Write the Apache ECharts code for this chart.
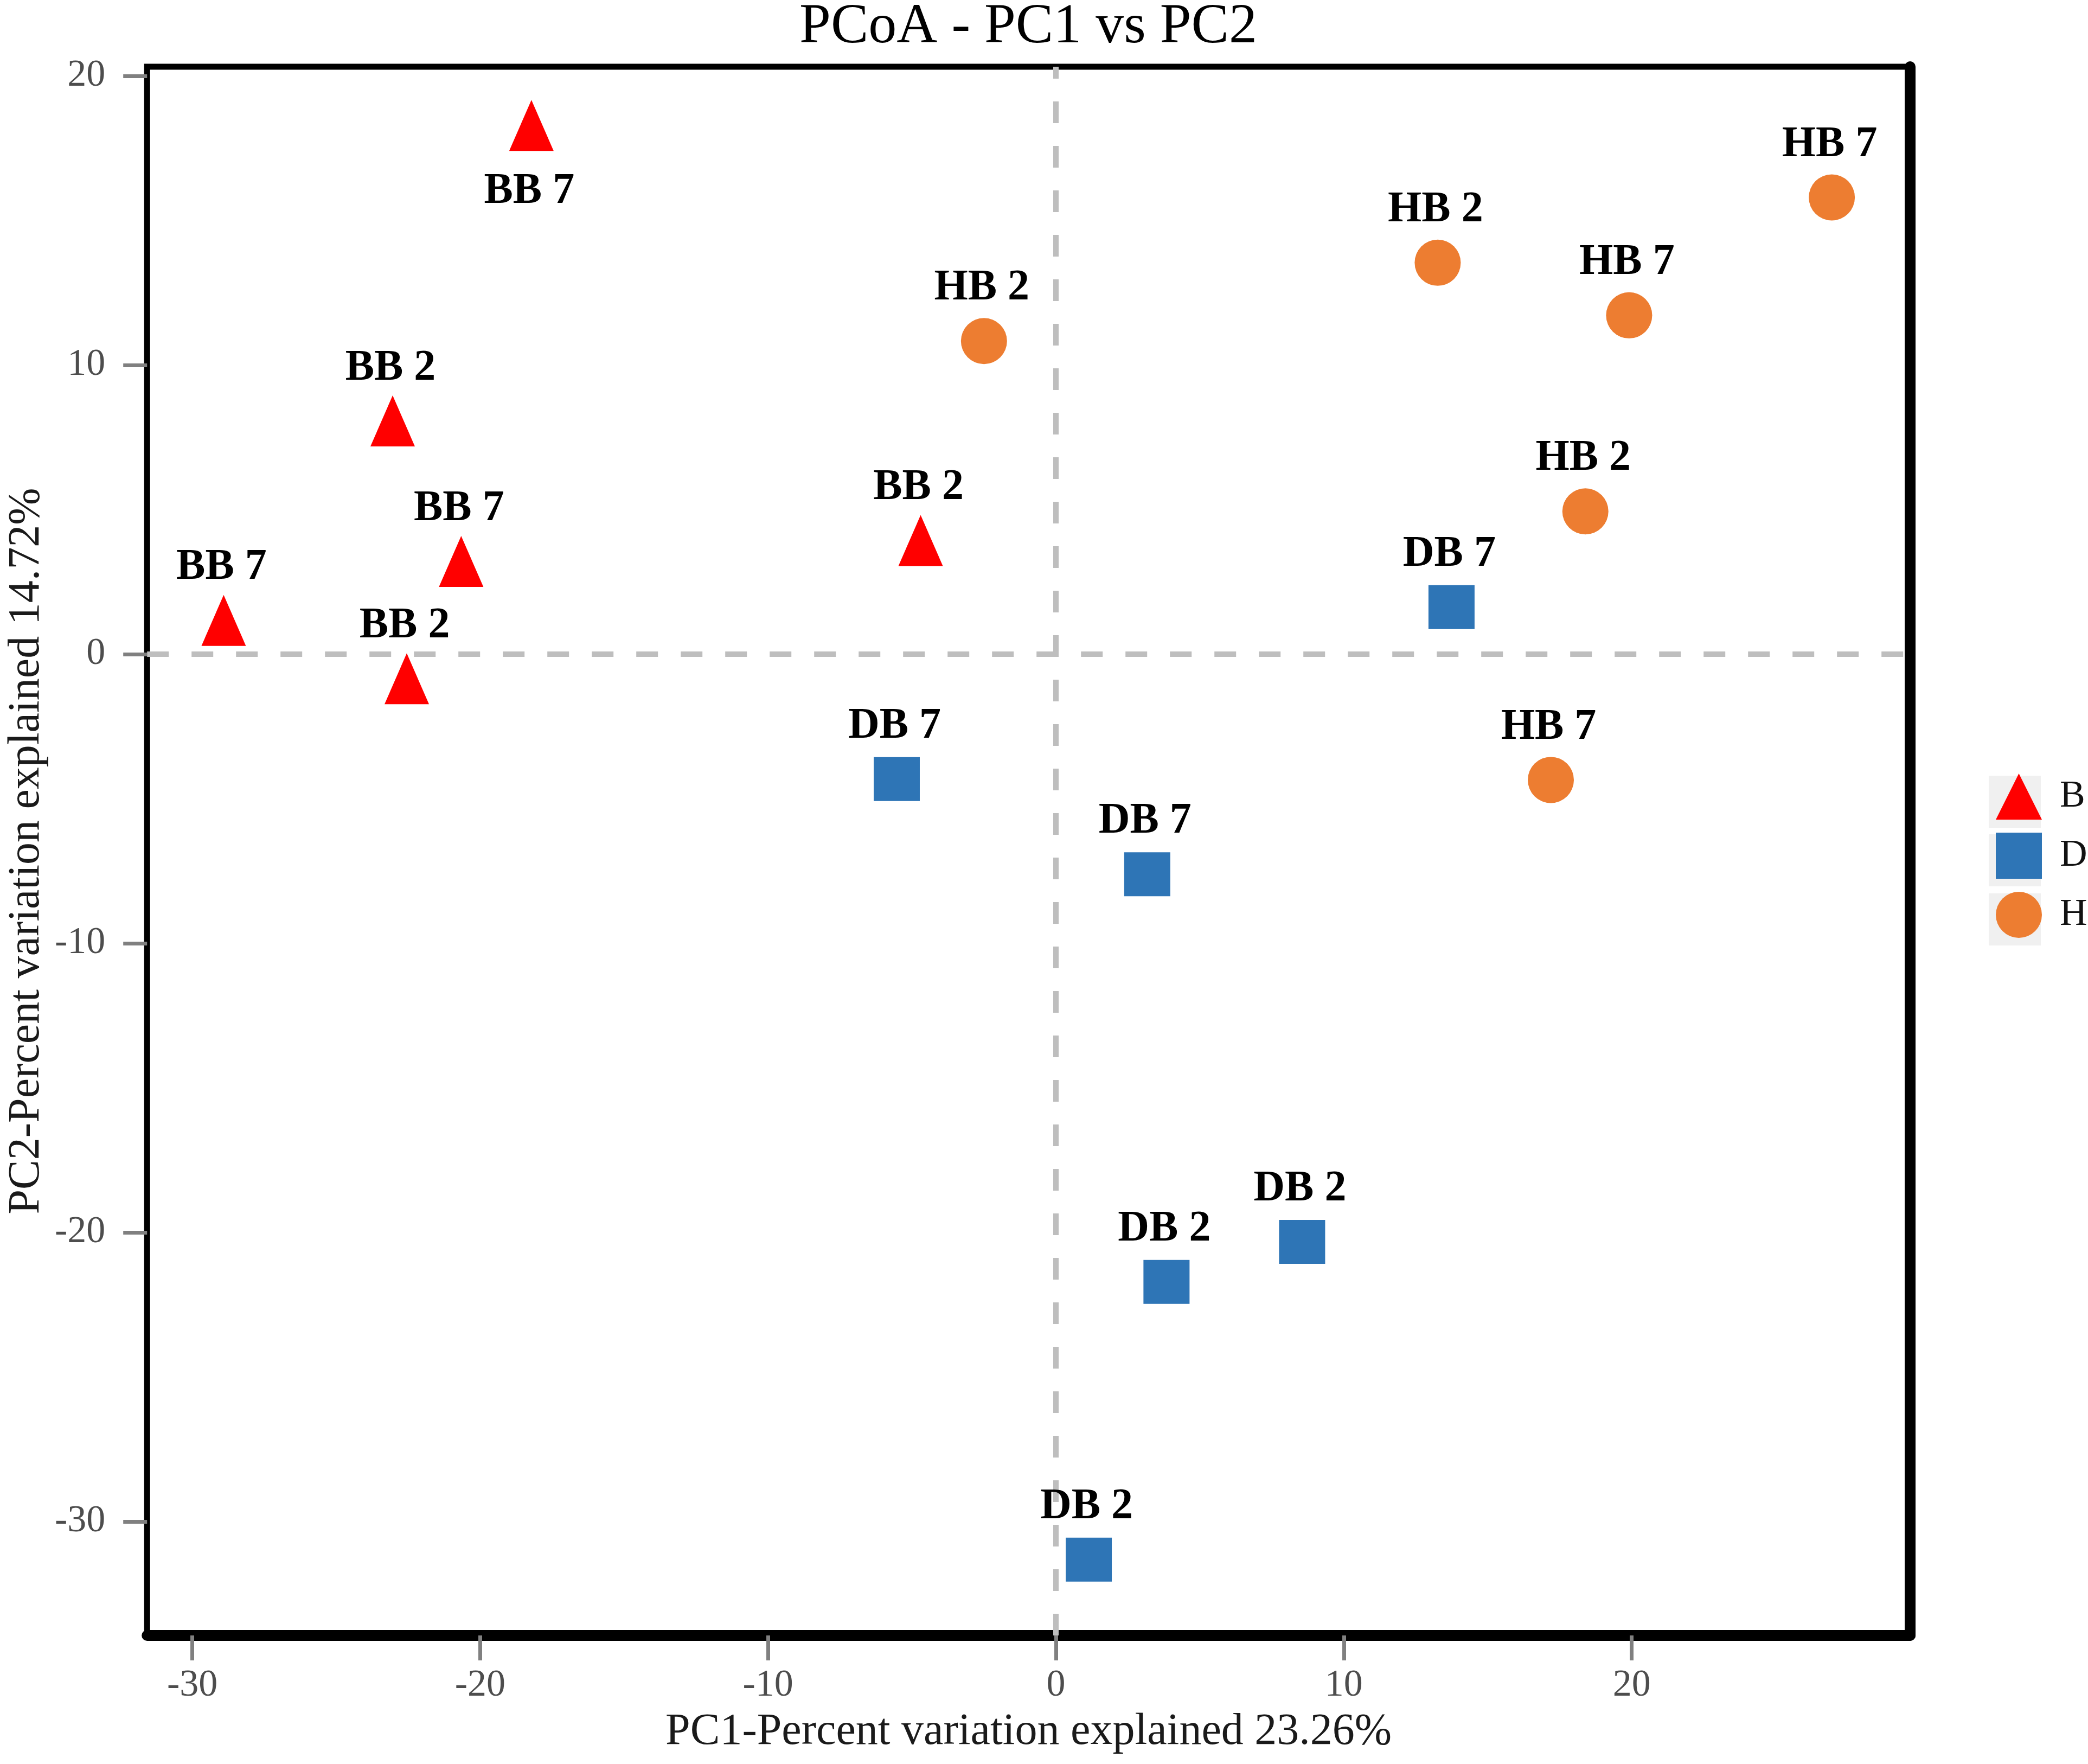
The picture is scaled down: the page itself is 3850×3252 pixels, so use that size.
<!DOCTYPE html>
<html><head><meta charset="utf-8">
<script src="https://cdn.jsdelivr.net/npm/echarts@6/dist/echarts.min.js"></script>
<style>html,body{margin:0;padding:0;background:#fff}#c{width:3850px;height:3252px}</style>
</head><body><div id="c"></div>
<script>
// ---- data ----
const groups = ['B', 'D', 'H'];
const bX = [-18.22, -23.04, -20.66, -28.91, -22.55, -4.70];
const bY = [18.29, 8.07, 3.21, 1.17, -0.85, 3.93];
const bLabels = ['BB 7', 'BB 2', 'BB 7', 'BB 7', 'BB 2', 'BB 2'];
const dX = [13.74, -5.53, 3.17, 8.55, 3.84, 1.14];
const dY = [1.63, -4.32, -7.61, -20.33, -21.71, -31.32];
const dLabels = ['DB 7', 'DB 7', 'DB 7', 'DB 2', 'DB 2', 'DB 2'];
const hX = [26.95, 13.26, 19.91, -2.50, 18.39, 17.19];
const hY = [15.80, 13.54, 11.72, 10.83, 4.94, -4.35];
const hLabels = ['HB 7', 'HB 2', 'HB 7', 'HB 2', 'HB 2', 'HB 7'];
const xTicks = [-30, -20, -10, 0, 10, 20];
const yTicks = [-30, -20, -10, 0, 10, 20];
const xRange = [-31.57, 29.67];
const yRange = [-33.94, 20.32];
const titleText = 'PCoA - PC1 vs PC2';
const xName = 'PC1-Percent variation explained 23.26%';
const yName = 'PC2-Percent variation explained 14.72%';

// ---- build ----
const SERIF = "'Liberation Serif', 'Times New Roman', serif";
function pts(xs, ys, labels, belowIdx) {
  return xs.map((x, i) => {
    const item = { value: [x, ys[i]], name: labels[i] };
    if (i === belowIdx) item.label = { offset: [-4, 122] };
    return item;
  });
}
const labelStyle = {
  show: true, position: 'inside', offset: [-4, -97], formatter: '{b}',
  fontFamily: SERIF, fontWeight: 'bold', fontSize: 80, color: '#000'
};
const chart = echarts.init(document.getElementById('c'), null, { renderer: 'canvas' });
chart.setOption({
  animation: false,
  backgroundColor: '#fff',
  title: {
    text: titleText, left: 1891, top: -6, textAlign: 'center',
    textStyle: { fontFamily: SERIF, fontSize: 104, fontWeight: 'normal', color: '#000' }
  },
  grid: {
    left: 267, right: 328, top: 123, bottom: 237,
    show: true, borderColor: '#000', borderWidth: 11, backgroundColor: 'transparent'
  },
  legend: {
    data: groups, orient: 'vertical', left: 3675, top: 1421,
    itemWidth: 85, itemHeight: 85, itemGap: 24, selectedMode: false,
    textStyle: { fontFamily: SERIF, fontSize: 70, color: '#111', padding: [0, 0, 0, 28] }
  },
  graphic: [
    { type: 'rect', shape: { x: 3667, y: 1430, width: 96, height: 96 }, style: { fill: '#f0f0f0' }, z: -1 },
    { type: 'rect', shape: { x: 3667, y: 1538, width: 96, height: 96 }, style: { fill: '#f0f0f0' }, z: -1 },
    { type: 'rect', shape: { x: 3667, y: 1647, width: 96, height: 96 }, style: { fill: '#f0f0f0' }, z: -1 }
  ],
  xAxis: {
    type: 'value', min: xRange[0], max: xRange[1], position: 'bottom',
    axisLine: { show: true, onZero: false, lineStyle: { color: '#000', width: 20 } },
    axisTick: { show: true, customValues: xTicks, length: 46, lineStyle: { color: '#808080', width: 7 } },
    axisLabel: { customValues: xTicks, margin: 58, fontFamily: SERIF, fontSize: 70, color: '#4d4d4d' },
    splitLine: { show: false },
    name: xName, nameLocation: 'middle', nameGap: 137,
    nameTextStyle: { fontFamily: SERIF, fontSize: 82, color: '#1a1a1a' }
  },
  yAxis: [{
    type: 'value', min: yRange[0], max: yRange[1], position: 'left',
    axisLine: { show: false, onZero: false },
    axisTick: { show: true, customValues: yTicks, length: 44, lineStyle: { color: '#808080', width: 7 } },
    axisLabel: { customValues: yTicks, margin: 77, fontFamily: SERIF, fontSize: 70, color: '#4d4d4d' },
    splitLine: { show: false },
    name: yName, nameLocation: 'middle', nameGap: 177,
    nameTextStyle: { fontFamily: SERIF, fontSize: 82, color: '#1a1a1a' }
  }, {
    type: 'value', min: yRange[0], max: yRange[1], position: 'right',
    axisLine: { show: true, onZero: false, lineStyle: { color: '#000', width: 20 } },
    axisTick: { show: false }, axisLabel: { show: false }, splitLine: { show: false }
  }],
  series: [
    {
      name: 'B', type: 'scatter', symbol: 'triangle', symbolSize: [82, 94],
      itemStyle: { color: '#FF0000', opacity: 1 }, label: labelStyle,
      data: pts(bX, bY, bLabels, 0),
      markLine: {
        silent: true, symbol: ['none', 'none'], label: { show: false },
        lineStyle: { color: '#bebebe', width: 10, type: [40, 42] },
        data: [{ xAxis: 0 }, { yAxis: 0 }], z: 1
      }
    },
    {
      name: 'D', type: 'scatter', symbol: 'rect', symbolSize: [85, 81],
      itemStyle: { color: '#2E75B6', opacity: 1 }, label: labelStyle,
      data: pts(dX, dY, dLabels, -1)
    },
    {
      name: 'H', type: 'scatter', symbol: 'circle', symbolSize: 85,
      itemStyle: { color: '#ED7D31', opacity: 1 }, label: labelStyle,
      data: pts(hX, hY, hLabels, -1)
    }
  ]
});
</script>
</body></html>
